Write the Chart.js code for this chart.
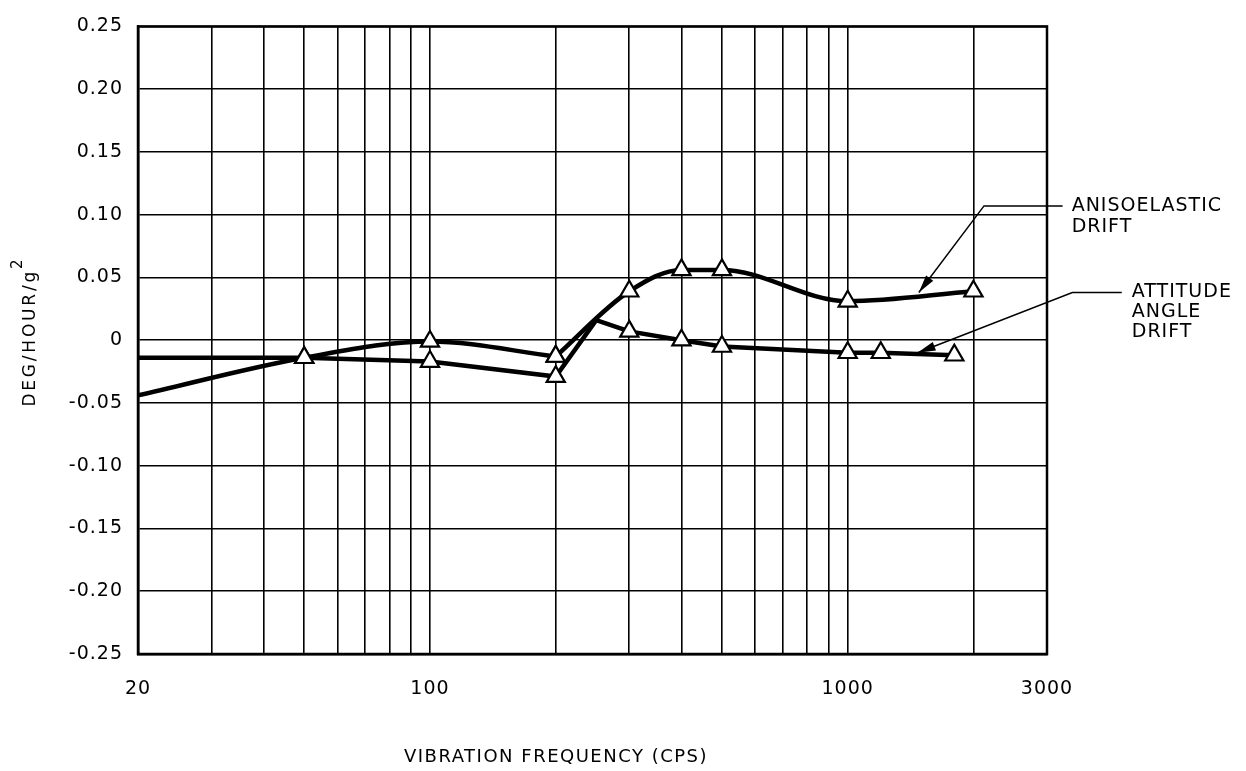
<!DOCTYPE html>
<html>
<head>
<meta charset="utf-8">
<script src="https://cdn.jsdelivr.net/npm/chart.js@4.4.1/dist/chart.umd.min.js"></script>
<style>
  html, body { margin: 0; padding: 0; background: #fff; }
  #wrap { width: 1246px; height: 771px; }
</style>
</head>
<body>
<div id="wrap"><canvas id="chart" width="1246" height="771"></canvas></div>
<script>
// Data (x in cps, y in deg/hour/g^2)
const anisoFreq   = [20, 50, 100, 200, 300, 400, 500, 1000, 2000];
const anisoDrift  = [-0.044, -0.014, -0.001, -0.013, 0.039, 0.056, 0.056, 0.031, 0.039];
const anisoMarked = [false, true, true, true, true, true, true, true, true];
const anisoCorner = 3; // the trace has a sharp bend at 200 cps

const attFreq   = [20, 50, 100, 200, 250, 300, 400, 500, 1000, 1200, 1800];
const attDrift  = [-0.014, -0.014, -0.017, -0.029, 0.016, 0.007, 0.0, -0.005, -0.010, -0.010, -0.012];
const attMarked = [false, true, true, true, false, true, true, true, true, true, true];

// Axis ticks
const gridFreqs = [20, 30, 40, 50, 60, 70, 80, 90, 100, 200, 300, 400, 500, 600, 700, 800, 900, 1000, 2000, 3000];
const labelledFreqs = [20, 100, 1000, 3000];
const yTickValues = [0.25, 0.20, 0.15, 0.10, 0.05, 0, -0.05, -0.10, -0.15, -0.20, -0.25];

// Callouts (anchored in data coordinates)
const callouts = [
  { lines: ['ANISOELASTIC', 'DRIFT'], tip: [1480, 0.038], elbow: [2120, 0.107], end: [3270, 0.107], gap: 9, lineGap: 21 },
  { lines: ['ATTITUDE', 'ANGLE', 'DRIFT'], tip: [1470, -0.010], elbow: [3450, 0.038], end: [4530, 0.038], gap: 10, lineGap: 20 }
];

const FONT = 'DejaVu Sans';

function toPoints(xs, ys) {
  return xs.map((x, i) => ({ x: x, y: ys[i] }));
}

function traceStyle(marked, extra) {
  return Object.assign({
    borderColor: '#000',
    borderWidth: 4.5,
    pointStyle: 'triangle',
    pointRadius: marked.map(m => m ? 10.5 : 0),
    pointBackgroundColor: '#fff',
    pointBorderColor: '#000',
    pointBorderWidth: 2.2
  }, extra);
}

// Extra drawing: frame, callouts, axis titles
const decorPlugin = {
  id: 'decor',
  beforeLayout(chart) {
    chart.ctx.letterSpacing = '1px';
  },
  beforeDraw(chart) {
    chart.ctx.letterSpacing = '1px';
  },
  afterDraw(chart) {
    const ctx = chart.ctx;
    const area = chart.chartArea;
    const xs = chart.scales.x;
    const ys = chart.scales.y;
    ctx.save();

    // plot frame
    ctx.strokeStyle = '#000';
    ctx.lineWidth = 2.5;
    ctx.strokeRect(area.left, area.top, area.right - area.left, area.bottom - area.top);

    // callouts
    callouts.forEach(c => {
      const tx = xs.getPixelForValue(c.tip[0]), ty = ys.getPixelForValue(c.tip[1]);
      const ex = xs.getPixelForValue(c.elbow[0]), ey = ys.getPixelForValue(c.elbow[1]);
      const nx = xs.getPixelForValue(c.end[0]), ny = ys.getPixelForValue(c.end[1]);
      ctx.strokeStyle = '#000';
      ctx.lineWidth = 1.5;
      ctx.beginPath();
      ctx.moveTo(nx, ny);
      ctx.lineTo(ex, ey);
      ctx.lineTo(tx, ty);
      ctx.stroke();
      // arrow head
      const ang = Math.atan2(ey - ty, ex - tx);
      const len = 18, half = 4.5;
      const bx = tx + Math.cos(ang) * len, by = ty + Math.sin(ang) * len;
      ctx.fillStyle = '#000';
      ctx.beginPath();
      ctx.moveTo(tx, ty);
      ctx.lineTo(bx - Math.sin(ang) * half, by + Math.cos(ang) * half);
      ctx.lineTo(bx + Math.sin(ang) * half, by - Math.cos(ang) * half);
      ctx.closePath();
      ctx.fill();
      // label
      ctx.font = '19px "' + FONT + '"';
      ctx.letterSpacing = '1px';
      ctx.textAlign = 'left';
      ctx.textBaseline = 'middle';
      c.lines.forEach((t, i) => ctx.fillText(t, nx + c.gap, ny + i * c.lineGap));
    });

    // x axis title
    ctx.font = '18px "' + FONT + '"';
    ctx.letterSpacing = '1.5px';
    ctx.textAlign = 'center';
    ctx.textBaseline = 'middle';
    ctx.fillText('VIBRATION FREQUENCY (CPS)', 556, 757);

    // y axis title, rotated, with superscript 2
    ctx.translate(31, 333);
    ctx.rotate(-Math.PI / 2);
    ctx.font = '17px "' + FONT + '"';
    ctx.letterSpacing = '2.8px';
    const main = 'DEG/HOUR/g';
    const wMain = ctx.measureText(main).width;
    ctx.font = '15px "' + FONT + '"';
    ctx.letterSpacing = '0px';
    const wSup = ctx.measureText('2').width;
    const start = -(wMain + wSup) / 2;
    ctx.textAlign = 'left';
    ctx.font = '17px "' + FONT + '"';
    ctx.letterSpacing = '2.8px';
    ctx.fillText(main, start, 0);
    ctx.font = '15px "' + FONT + '"';
    ctx.letterSpacing = '0px';
    ctx.fillText('2', start + wMain, -13);

    ctx.restore();
    ctx.letterSpacing = '1px';
  }
};

const tickFont = { family: FONT, size: 19 };

new Chart(document.getElementById('chart'), {
  type: 'line',
  data: {
    datasets: [
      traceStyle(anisoMarked.slice(0, anisoCorner + 1), {
        label: 'Anisoelastic drift',
        data: toPoints(anisoFreq.slice(0, anisoCorner + 1), anisoDrift.slice(0, anisoCorner + 1)),
        cubicInterpolationMode: 'monotone'
      }),
      traceStyle(anisoMarked.slice(anisoCorner), {
        label: 'Anisoelastic drift (cont.)',
        data: toPoints(anisoFreq.slice(anisoCorner), anisoDrift.slice(anisoCorner)),
        cubicInterpolationMode: 'monotone'
      }),
      traceStyle(attMarked, {
        label: 'Attitude angle drift',
        data: toPoints(attFreq, attDrift),
        tension: 0
      })
    ]
  },
  options: {
    responsive: false,
    animation: false,
    devicePixelRatio: 1,
    layout: { padding: { left: 0, top: 20, right: 199, bottom: 0 } },
    plugins: {
      legend: { display: false },
      tooltip: { enabled: false }
    },
    scales: {
      x: {
        type: 'logarithmic',
        min: 20,
        max: 3000,
        afterBuildTicks: s => { s.ticks = gridFreqs.map(v => ({ value: v })); },
        afterFit: s => { s.height = 117; },
        ticks: {
          autoSkip: false,
          maxRotation: 0,
          padding: 24,
          color: '#000',
          font: tickFont,
          callback: v => labelledFreqs.includes(v) ? String(v) : ''
        },
        grid: { color: '#000', lineWidth: 1.6, drawTicks: false },
        border: { color: '#000', width: 2.5 }
      },
      y: {
        type: 'linear',
        min: -0.25,
        max: 0.25,
        afterBuildTicks: s => { s.ticks = yTickValues.map(v => ({ value: v })); },
        afterFit: s => { s.width = 138; },
        ticks: {
          padding: 15,
          color: '#000',
          font: tickFont,
          callback: v => Math.abs(v) < 1e-9 ? '0' : v.toFixed(2)
        },
        grid: { color: '#000', lineWidth: 1.6, drawTicks: false },
        border: { color: '#000', width: 2.5 }
      }
    }
  },
  plugins: [decorPlugin]
});
</script>
</body>
</html>
